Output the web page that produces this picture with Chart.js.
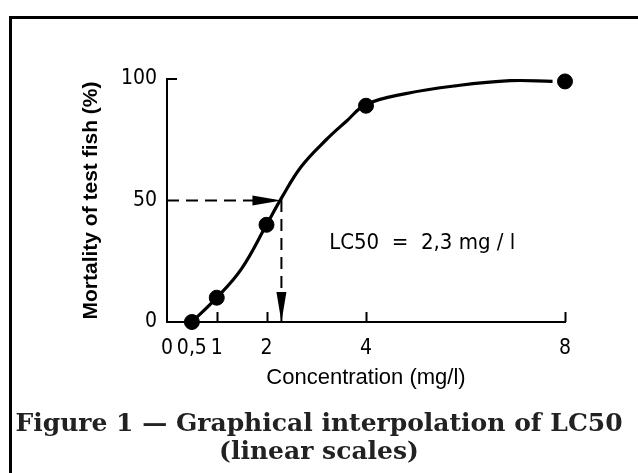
<!DOCTYPE html>
<html>
<head>
<meta charset="utf-8">
<script src="https://cdn.jsdelivr.net/npm/chart.js@4"></script>
<style>
  html, body { margin: 0; padding: 0; background: #fff; overflow: hidden; }
  #wrap { position: relative; width: 638px; height: 473px; }
  #frame { position: absolute; left: 9px; top: 16px; width: 660px; height: 480px; border: 3px solid #000; box-sizing: border-box; }
  canvas { position: absolute; left: 0; top: 0; }
</style>
</head>
<body>
<div id="wrap">
  <div id="frame"></div>
  <canvas id="chart" width="638" height="473"></canvas>
</div>
<script>
// measured points
const concentration = [0.5, 1, 2, 4, 8];
const mortality = [0, 10, 40, 89, 99];

// hand-drawn curve
const curveX = [0.5, 1, 1.5, 2, 2.3, 2.7, 3.2, 3.6, 4, 4.8, 5.8, 6.9, 7.75];
const curveY = [0, 10, 22, 40, 51, 64, 75, 82.5, 89.5, 94, 97.2, 99.3, 99];

const xTicks = [0, 0.5, 1, 2, 4, 8];
const yTicks = [0, 50, 100];
const xTickMarks = [1, 2, 4, 8];
const yTickMarks = [100];

const lc50 = 2.3;
const lc50Level = 50;
const lc50Text = "LC50  =  2,3 mg / l";
const lc50TextAt = [3.26, 30];

const caption = ["Figure 1 \u2014 Graphical interpolation of LC50", "(linear scales)"];

const narrow = "'Liberation Sans Narrow', 'DejaVu Sans Condensed', 'Liberation Sans', sans-serif";

const toPts = (xs, ys) => xs.map((x, i) => ({ x: x, y: ys[i] }));

// small inward tick marks, like the drawing (no gridlines)
const inwardTicks = {
  id: "inwardTicks",
  beforeDatasetsDraw(chart) {
    const { ctx, scales: { x, y } } = chart;
    ctx.save();
    ctx.strokeStyle = "#000";
    ctx.lineWidth = 2;
    ctx.beginPath();
    xTickMarks.forEach(v => {
      const px = Math.round(x.getPixelForValue(v)) + 0.5;
      ctx.moveTo(px, y.bottom);
      ctx.lineTo(px, y.bottom - 10);
    });
    yTickMarks.forEach(v => {
      const py = Math.round(y.getPixelForValue(v));
      ctx.moveTo(x.left, py);
      ctx.lineTo(x.left + 10, py);
    });
    ctx.stroke();
    ctx.restore();
  }
};

// arrowheads on the interpolation lines + the LC50 note
const lc50Marks = {
  id: "lc50Marks",
  afterDatasetsDraw(chart) {
    const { ctx, scales: { x, y } } = chart;
    const px = x.getPixelForValue(lc50);
    const py = y.getPixelForValue(lc50Level);
    const p0 = y.getPixelForValue(0);
    ctx.save();
    ctx.fillStyle = "#000";
    ctx.beginPath();
    ctx.moveTo(px, py);
    ctx.lineTo(px - 29, py - 5);
    ctx.lineTo(px - 29, py + 5);
    ctx.closePath();
    ctx.fill();
    ctx.beginPath();
    ctx.moveTo(px, p0);
    ctx.lineTo(px - 5, p0 - 30);
    ctx.lineTo(px + 5, p0 - 30);
    ctx.closePath();
    ctx.fill();
    ctx.font = "22px " + narrow;
    ctx.textBaseline = "alphabetic";
    ctx.textAlign = "left";
    ctx.fillText(lc50Text, x.getPixelForValue(lc50TextAt[0]), y.getPixelForValue(lc50TextAt[1]));
    ctx.restore();
  }
};

new Chart(document.getElementById("chart"), {
  type: "scatter",
  data: {
    datasets: [
      {
        label: "Mortality",
        data: toPts(concentration, mortality),
        backgroundColor: "#000",
        borderColor: "#000",
        pointRadius: 7.5,
        clip: false,
        order: 0
      },
      {
        label: "Curve",
        data: toPts(curveX, curveY),
        showLine: true,
        tension: 0.4,
        borderColor: "#000",
        borderWidth: 3.2,
        pointRadius: 0,
        clip: false,
        order: 1
      },
      {
        label: "LC50",
        data: [{ x: 0, y: lc50Level }, { x: lc50, y: lc50Level }, { x: lc50, y: 0 }],
        showLine: true,
        tension: 0,
        borderColor: "#000",
        borderWidth: 2,
        borderDash: [12, 7],
        pointRadius: 0,
        clip: false,
        order: 2
      }
    ]
  },
  options: {
    responsive: false,
    animation: false,
    layout: { padding: { left: 0, top: 79, right: 0, bottom: 7 } },
    plugins: {
      legend: { display: false },
      tooltip: { enabled: false },
      title: {
        display: true,
        position: "bottom",
        text: caption,
        color: "#222",
        font: { family: "'DejaVu Serif', serif", size: 25, weight: "bold", lineHeight: 1.1 },
        padding: { top: 20, bottom: 0 }
      }
    },
    scales: {
      x: {
        type: "linear",
        min: 0,
        max: 8,
        afterBuildTicks: s => { s.ticks = xTicks.map(v => ({ value: v })); },
        afterFit: s => { s.height = 69; },
        grid: { display: false, drawTicks: false },
        border: { display: true, color: "#000", width: 2 },
        ticks: {
          autoSkip: false,
          maxRotation: 0,
          padding: 14,
          color: "#000",
          font: { family: narrow, size: 21 },
          callback: v => String(v).replace(".", ",")
        },
        title: {
          display: true,
          text: "Concentration (mg/l)",
          color: "#000",
          font: { family: "'Liberation Sans', Arial, sans-serif", size: 22 },
          padding: 0
        }
      },
      y: {
        type: "linear",
        min: 0,
        max: 100,
        afterBuildTicks: s => { s.ticks = yTicks.map(v => ({ value: v })); },
        afterFit: s => { s.width = 167; },
        grid: { display: false, drawTicks: false },
        border: { display: true, color: "#000", width: 2 },
        ticks: {
          padding: 10,
          color: "#000",
          font: { family: narrow, size: 21 }
        },
        title: {
          display: true,
          text: "Mortality of test fish (%)",
          color: "#000",
          font: { family: "'Liberation Sans', Arial, sans-serif", size: 21, weight: "bold" },
          padding: { top: 79 }
        }
      },
      // empty right-hand margin so the caption centres on the whole figure
      yRight: {
        type: "linear",
        position: "right",
        min: 0,
        max: 100,
        afterFit: s => { s.width = 73; },
        grid: { display: false, drawTicks: false },
        border: { display: false },
        ticks: { display: false }
      }
    }
  },
  plugins: [inwardTicks, lc50Marks]
});
</script>
</body>
</html>
